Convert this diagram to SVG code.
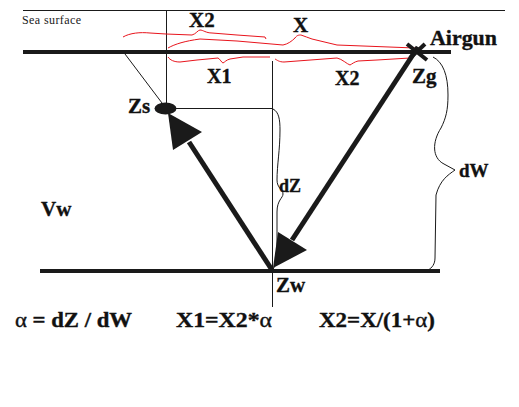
<svg xmlns="http://www.w3.org/2000/svg" width="519" height="407" viewBox="0 0 519 407">
<style>
.t{font-family:"Liberation Serif","Times New Roman",serif;font-weight:bold;fill:#111;stroke:#111;stroke-width:0.35}
.thin{stroke:#1a1a1a;stroke-width:1;fill:none}
.thick{stroke:#1a1a1a;stroke-width:4;fill:none}
.ray{stroke:#1a1a1a;stroke-width:5;fill:none}
.brace{stroke:#e8141c;stroke-width:1;fill:none}
.head{fill:#1a1a1a}
</style>
<rect width="519" height="407" fill="#fff"/>
<g id="frame">
<line class="thin" x1="23" y1="10.5" x2="505" y2="10.5"/>
<line class="thick" x1="23" y1="52" x2="451" y2="52"/>
<line class="thick" x1="40" y1="271" x2="440" y2="271"/>
<line class="thin" x1="166.5" y1="10" x2="166.5" y2="104"/>
<line class="thin" x1="176" y1="108.5" x2="273" y2="108.5"/>
<line class="thin" x1="272.5" y1="61" x2="272.5" y2="307"/>
<line class="thin" x1="125" y1="54" x2="162" y2="103"/>
</g>
<g id="braces">
<path class="brace" d="M123,37 C130,33 140,32 150,33 L166,34 L192,35 C196,34 198,30 200,30 C203,30 206,33 212,33 L237,35 L265,37 L266,39"/>
<path class="brace" d="M168,48 C175,44 185,41 200,39 L237,41 L283,45 C288,44 292,41 295,38 C297,35 299,35 301,35 C305,36 308,38 312,39 L337,45 L415,48"/>
<path class="brace" d="M168,57 C170,60 174,62 180,62 L197,60 L218,58 C220,59 222,63 223,63 C225,62 226,60 230,59 L243,57 L270,57"/>
<path class="brace" d="M275,59 C277,60 279,62 284,62 L337,58 C342,59 347,64 350,65 C352,64 354,62 358,61 L377,60 L410,58"/>
<path class="thin" d="M273,109 C279,112 280,120 280,130 C280,150 277,165 277,180 C277,188 283,190 283,194 C283,198 277,200 277,212 L277,255 C277,262 275,266 273,269"/>
<path class="thin" d="M433,57 C443,62 448,75 448,95 C448,110 446,118 441,128 C432,142 432,158 444,164 L455,170 C448,175 440,180 436,195 L435,258 C435,264 432,268 428,270"/>
</g>
<g id="connectors">
<line class="ray" x1="272" y1="270" x2="189" y2="142"/>
<polygon class="head" points="168,113 173,150 202,132"/>
<line class="ray" x1="418" y1="47" x2="292" y2="240"/>
<polygon class="head" points="273,268 278,232 307,250"/>
</g>
<g id="airgun">
<line class="thick" x1="407" y1="44" x2="427" y2="60"/>
<line class="thick" x1="425" y1="44" x2="410" y2="58"/>
<text class="t" x="430" y="45" font-size="21" textLength="67" lengthAdjust="spacingAndGlyphs">Airgun</text>
<text class="t" x="412" y="83" font-size="21">Zg</text>
</g>
<g id="receiver">
<ellipse cx="165.5" cy="108.5" rx="11" ry="6" fill="#1a1a1a"/>
<text class="t" x="128" y="113" font-size="21">Zs</text>
</g>
<g id="reflection">
<text class="t" x="276" y="292" font-size="21">Zw</text>
</g>
<g id="labels">
<text x="22" y="24" font-size="12" textLength="59" style="font-family:'Liberation Serif','Times New Roman',serif;fill:#1a1a1a">Sea surface</text>
<text class="t" x="189" y="27" font-size="21">X2</text>
<text class="t" x="293" y="32" font-size="21">X</text>
<text class="t" x="207" y="83" font-size="20">X1</text>
<text class="t" x="335" y="85" font-size="20">X2</text>
<text class="t" x="279" y="192" font-size="18">dZ</text>
<text class="t" x="459" y="177" font-size="19">dW</text>
<text class="t" x="41" y="216" font-size="21">Vw</text>
</g>
<g id="formulas">
<text class="t" x="15" y="327" font-size="20" textLength="117" lengthAdjust="spacingAndGlyphs"><tspan font-weight="normal">α</tspan> = dZ / dW</text>
<text class="t" x="176" y="327" font-size="20" textLength="96" lengthAdjust="spacingAndGlyphs">X1=X2*<tspan font-weight="normal">α</tspan></text>
<text class="t" x="319" y="327" font-size="20" textLength="116" lengthAdjust="spacingAndGlyphs">X2=X/(1+<tspan font-weight="normal">α</tspan>)</text>
</g>
</svg>
